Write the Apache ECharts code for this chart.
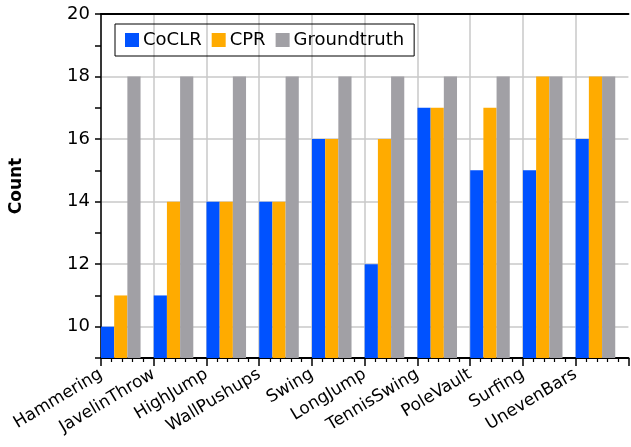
<!DOCTYPE html>
<html>
<head>
<meta charset="utf-8">
<script src="https://cdn.jsdelivr.net/npm/echarts@6/dist/echarts.min.js"></script>
<style>
  html, body { margin: 0; padding: 0; background: #fff; }
</style>
</head>
<body>
<div id="main" style="width:631px; height:447px;"></div>
<script>
// data
var categories = ['Hammering', 'JavelinThrow', 'HighJump', 'WallPushups', 'Swing',
  'LongJump', 'TennisSwing', 'PoleVault', 'Surfing', 'UnevenBars']
var coclr = [10, 11, 14, 14, 16, 12, 17, 15, 15, 16]
var cpr = [11, 14, 14, 14, 16, 16, 17, 17, 18, 18]
var groundtruth = [18, 18, 18, 18, 18, 18, 18, 18, 18, 18]
var yTicks = [10, 12, 14, 16, 18, 20]

var font = 'DejaVu Sans'

var myChart = echarts.init(document.getElementById('main'))

var option = {
  animation: false,
  textStyle: { fontFamily: font },
  grid: { left: 101, right: 2, top: 14, bottom: 89 },
  legend: {
    data: ['CoCLR', 'CPR', 'Groundtruth'],
    left: 115,
    top: 24,
    padding: [7, 10],
    itemGap: 10,
    itemWidth: 14,
    itemHeight: 14,
    icon: 'rect',
    borderColor: '#000',
    borderWidth: 1,
    textStyle: { fontFamily: font, fontSize: 18, color: '#000', padding: [0, 0, 0, -1] }
  },
  xAxis: [
    {
      // ticks + labels at category boundaries
      type: 'value',
      position: 'bottom',
      min: 0,
      max: categories.length,
      interval: 1,
      axisLine: { show: true, lineStyle: { color: '#000', width: 2 } },
      axisTick: { show: true, length: 8, lineStyle: { color: '#000', width: 1.5 } },
      minorTick: { show: true, splitNumber: 5, length: 4, lineStyle: { color: '#000', width: 1.2 } },
      splitLine: { show: true, showMaxLine: false, lineStyle: { color: '#c8c8c8', width: 1.5 } },
      axisLabel: {
        rotate: 31,
        margin: 15,
        fontFamily: font,
        fontSize: 17,
        color: '#000',
        formatter: function (v) { return categories[v] || '' }
      }
    },
    {
      // top border
      type: 'value',
      position: 'top',
      min: 0,
      max: categories.length,
      axisLine: { show: true, lineStyle: { color: '#000', width: 2 } },
      axisTick: { show: false },
      axisLabel: { show: false },
      splitLine: { show: false }
    },
    {
      type: 'category',
      data: categories,
      show: false
    }
  ],
  yAxis: {
    type: 'value',
    min: 9,
    max: 20,
    interval: 1,
    name: 'Count',
    nameLocation: 'middle',
    nameGap: 76,
    nameTextStyle: { fontFamily: font, fontSize: 17, fontWeight: 'bold', color: '#000' },
    axisLine: { show: true, lineStyle: { color: '#000', width: 1.5 } },
    axisTick: { show: true, length: 6, lineStyle: { color: '#000', width: 1.5 } },
    splitLine: {
      show: true,
      showMinLine: false,
      lineStyle: { color: ['#c8c8c8', 'rgba(0,0,0,0)'], width: 1.5 }
    },
    axisLabel: {
      margin: 11,
      fontFamily: font,
      fontSize: 18,
      color: '#000',
      formatter: function (v) { return yTicks.indexOf(v) >= 0 ? v : '' }
    }
  },
  series: [
    { name: 'CoCLR', type: 'bar', xAxisIndex: 2, data: coclr, itemStyle: { color: '#0052ff' }, barGap: '0%', barCategoryGap: '0%' },
    { name: 'CPR', type: 'bar', xAxisIndex: 2, data: cpr, itemStyle: { color: '#ffab00' } },
    { name: 'Groundtruth', type: 'bar', xAxisIndex: 2, data: groundtruth, itemStyle: { color: '#a1a0a5' } },
    // empty slot so the three bars sit at the left of each category
    { name: 'pad', type: 'bar', xAxisIndex: 2, data: categories.map(function () { return null }) }
  ]
}

myChart.setOption(option)
</script>
</body>
</html>
